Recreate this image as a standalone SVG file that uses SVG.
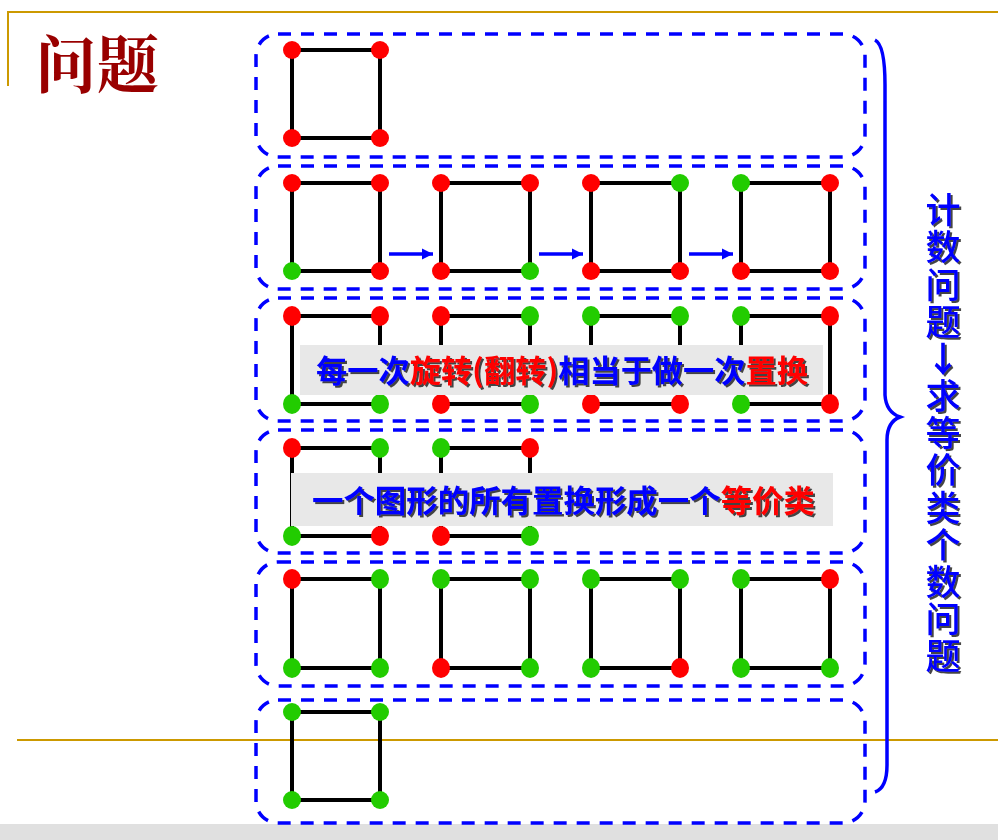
<svg xmlns="http://www.w3.org/2000/svg" width="998" height="840" viewBox="0 0 998 840">
<defs>
<style>
.box{fill:none;stroke:#0000FF;stroke-width:3.5;stroke-dasharray:13 10}
.sq{fill:none;stroke:#000;stroke-width:4}
.r{fill:#FF0000}
.g{fill:#22CC00}
.gold{stroke:#CC9900;stroke-width:2;fill:none}
.lbl{font-family:"Noto Sans CJK SC","Noto Sans CJK TC",sans-serif;font-weight:bold;font-size:31px;filter:url(#sh)}
.b{fill:#0000FF}
.rd{fill:#FF0000}
.conn{stroke:#0000FF;stroke-width:3.5;fill:none}
</style>
<filter id="sh" x="-5%" y="-20%" width="110%" height="140%">
<feDropShadow dx="2" dy="2" stdDeviation="0.6" flood-color="#333333" flood-opacity="0.9"/>
</filter>
<marker id="ah" viewBox="0 0 10 10" refX="10" refY="5" markerWidth="3.2" markerHeight="3.2" orient="auto" markerUnits="strokeWidth">
<path d="M0,0 L10,5 L0,10 z" fill="#0000FF"/>
</marker>
</defs>
<rect x="0" y="0" width="998" height="840" fill="#FFFFFF"/>
<rect x="0" y="824" width="998" height="16" fill="#E0E0E0"/>
<g id="frame">
<path class="gold" d="M8,86 V12 H998"/>
<path class="gold" d="M17,740 H998"/>
</g>
<g id="title">
<text x="35" y="88" font-family="'Noto Serif CJK SC','Noto Sans CJK SC',serif" font-weight="bold" font-size="62" fill="#990000">问题</text>
</g>

<g id="row1">
<rect class="box" x="256" y="34" width="609" height="123" rx="22"/>
<g id="r1s1"><rect class="sq" x="292" y="50" width="88" height="88"/>
<circle class="r" cx="292" cy="50" r="9"/><circle class="r" cx="380" cy="50" r="9"/><circle class="r" cx="292" cy="138" r="9"/><circle class="r" cx="380" cy="138" r="9"/></g>
</g>

<g id="row2">
<rect class="box" x="256" y="166" width="609" height="123" rx="22"/>
<g id="r2s1"><rect class="sq" x="292" y="183" width="88" height="88"/>
<circle class="r" cx="292" cy="183" r="9"/><circle class="r" cx="380" cy="183" r="9"/><circle class="g" cx="292" cy="271" r="9"/><circle class="r" cx="380" cy="271" r="9"/></g>
<g id="r2s2"><rect class="sq" x="441" y="183" width="89" height="88"/>
<circle class="r" cx="441" cy="183" r="9"/><circle class="r" cx="530" cy="183" r="9"/><circle class="r" cx="441" cy="271" r="9"/><circle class="g" cx="530" cy="271" r="9"/></g>
<g id="r2s3"><rect class="sq" x="591" y="183" width="89" height="88"/>
<circle class="r" cx="591" cy="183" r="9"/><circle class="g" cx="680" cy="183" r="9"/><circle class="r" cx="591" cy="271" r="9"/><circle class="r" cx="680" cy="271" r="9"/></g>
<g id="r2s4"><rect class="sq" x="741" y="183" width="89" height="88"/>
<circle class="g" cx="741" cy="183" r="9"/><circle class="r" cx="830" cy="183" r="9"/><circle class="r" cx="741" cy="271" r="9"/><circle class="r" cx="830" cy="271" r="9"/></g>
</g>

<g id="row3">
<rect class="box" x="256" y="298" width="609" height="123" rx="22"/>
<g id="r3s1"><rect class="sq" x="292" y="316" width="88" height="88"/>
<ellipse class="r" cx="292" cy="316" rx="9" ry="10"/><ellipse class="r" cx="380" cy="316" rx="9" ry="10"/><ellipse class="g" cx="292" cy="404" rx="9" ry="10"/><ellipse class="g" cx="380" cy="404" rx="9" ry="10"/></g>
<g id="r3s2"><rect class="sq" x="441" y="316" width="89" height="88"/>
<ellipse class="r" cx="441" cy="316" rx="9" ry="10"/><ellipse class="g" cx="530" cy="316" rx="9" ry="10"/><ellipse class="r" cx="441" cy="404" rx="9" ry="10"/><ellipse class="g" cx="530" cy="404" rx="9" ry="10"/></g>
<g id="r3s3"><rect class="sq" x="591" y="316" width="89" height="88"/>
<ellipse class="g" cx="591" cy="316" rx="9" ry="10"/><ellipse class="g" cx="680" cy="316" rx="9" ry="10"/><ellipse class="r" cx="591" cy="404" rx="9" ry="10"/><ellipse class="r" cx="680" cy="404" rx="9" ry="10"/></g>
<g id="r3s4"><rect class="sq" x="741" y="316" width="89" height="88"/>
<ellipse class="g" cx="741" cy="316" rx="9" ry="10"/><ellipse class="r" cx="830" cy="316" rx="9" ry="10"/><ellipse class="g" cx="741" cy="404" rx="9" ry="10"/><ellipse class="r" cx="830" cy="404" rx="9" ry="10"/></g>
<g id="label1">
<rect x="300" y="345" width="523" height="50" fill="#E8E8E8"/>
<text class="lbl" x="316" y="382" textLength="492" lengthAdjust="spacingAndGlyphs"><tspan class="b">每一次</tspan><tspan class="rd">旋转(翻转)</tspan><tspan class="b">相当于做一次</tspan><tspan class="rd">置换</tspan></text>
</g>
</g>

<g id="row4">
<rect class="box" x="256" y="430" width="609" height="123" rx="22"/>
<g id="r4s1"><rect class="sq" x="292" y="448" width="88" height="88"/>
<ellipse class="r" cx="292" cy="448" rx="9" ry="10"/><ellipse class="g" cx="380" cy="448" rx="9" ry="10"/><ellipse class="g" cx="292" cy="536" rx="9" ry="10"/><ellipse class="r" cx="380" cy="536" rx="9" ry="10"/></g>
<g id="r4s2"><rect class="sq" x="441" y="448" width="89" height="88"/>
<ellipse class="g" cx="441" cy="448" rx="9" ry="10"/><ellipse class="r" cx="530" cy="448" rx="9" ry="10"/><ellipse class="r" cx="441" cy="536" rx="9" ry="10"/><ellipse class="g" cx="530" cy="536" rx="9" ry="10"/></g>
<g id="label2">
<rect x="291" y="473" width="542" height="53" fill="#E8E8E8"/>
<text class="lbl" x="312" y="512" textLength="503" lengthAdjust="spacingAndGlyphs"><tspan class="b">一个图形的所有置换形成一个</tspan><tspan class="rd">等价类</tspan></text>
</g>
</g>

<g id="row5">
<rect class="box" x="256" y="562" width="609" height="124" rx="22"/>
<g id="r5s1"><rect class="sq" x="292" y="579" width="88" height="89"/>
<ellipse class="r" cx="292" cy="579" rx="9" ry="10"/><ellipse class="g" cx="380" cy="579" rx="9" ry="10"/><ellipse class="g" cx="292" cy="668" rx="9" ry="10"/><ellipse class="g" cx="380" cy="668" rx="9" ry="10"/></g>
<g id="r5s2"><rect class="sq" x="441" y="579" width="89" height="89"/>
<ellipse class="g" cx="441" cy="579" rx="9" ry="10"/><ellipse class="g" cx="530" cy="579" rx="9" ry="10"/><ellipse class="r" cx="441" cy="668" rx="9" ry="10"/><ellipse class="g" cx="530" cy="668" rx="9" ry="10"/></g>
<g id="r5s3"><rect class="sq" x="591" y="579" width="89" height="89"/>
<ellipse class="g" cx="591" cy="579" rx="9" ry="10"/><ellipse class="g" cx="680" cy="579" rx="9" ry="10"/><ellipse class="g" cx="591" cy="668" rx="9" ry="10"/><ellipse class="r" cx="680" cy="668" rx="9" ry="10"/></g>
<g id="r5s4"><rect class="sq" x="741" y="579" width="89" height="89"/>
<ellipse class="g" cx="741" cy="579" rx="9" ry="10"/><ellipse class="r" cx="830" cy="579" rx="9" ry="10"/><ellipse class="g" cx="741" cy="668" rx="9" ry="10"/><ellipse class="g" cx="830" cy="668" rx="9" ry="10"/></g>
</g>

<g id="row6">
<rect class="box" x="256" y="700" width="609" height="123" rx="22"/>
<g id="r6s1"><rect class="sq" x="292" y="712" width="88" height="88"/>
<circle class="g" cx="292" cy="712" r="9"/><circle class="g" cx="380" cy="712" r="9"/><circle class="g" cx="292" cy="800" r="9"/><circle class="g" cx="380" cy="800" r="9"/></g>
</g>

<g id="connectors">
<line class="conn" x1="389" y1="254" x2="433" y2="254" marker-end="url(#ah)"/>
<line class="conn" x1="539" y1="254" x2="583" y2="254" marker-end="url(#ah)"/>
<line class="conn" x1="689" y1="254" x2="733" y2="254" marker-end="url(#ah)"/>
</g>

<g id="brace">
<path d="M875,40 Q885,45 885,85 L885,395 Q886,412 900,417 Q887,422 887,440 L887,765 Q887,788 875,792" fill="none" stroke="#0000FF" stroke-width="3.5"/>
</g>

<g id="sidetext">
<text font-family="'Noto Sans CJK SC',sans-serif" font-weight="500" font-size="35" fill="#0000FF" text-anchor="middle" filter="url(#sh)">
<tspan x="943" y="223">计</tspan><tspan x="943" y="260">数</tspan><tspan x="943" y="298">问</tspan><tspan x="943" y="335">题</tspan><tspan x="943" y="372" font-weight="bold">↓</tspan><tspan x="943" y="409">求</tspan><tspan x="943" y="446">等</tspan><tspan x="943" y="483">价</tspan><tspan x="943" y="521">类</tspan><tspan x="943" y="558">个</tspan><tspan x="943" y="595">数</tspan><tspan x="943" y="632">问</tspan><tspan x="943" y="669">题</tspan>
</text>
</g>
</svg>
